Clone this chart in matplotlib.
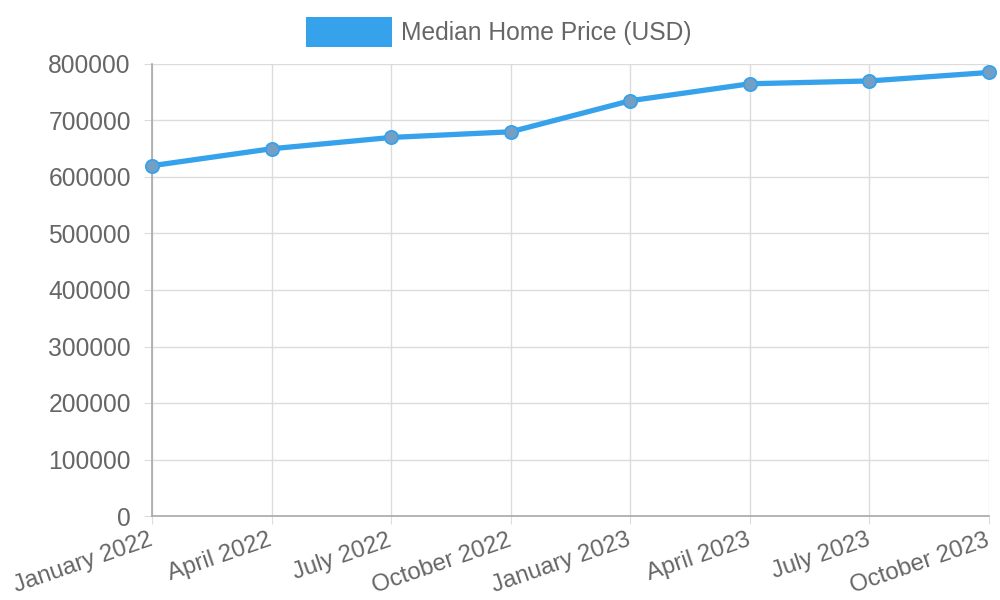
import matplotlib
matplotlib.use("Agg")
import matplotlib.pyplot as plt
import matplotlib.transforms as mtransforms
from matplotlib.patches import Rectangle

months = ["January 2022", "April 2022", "July 2022", "October 2022",
          "January 2023", "April 2023", "July 2023", "October 2023"]
prices = [620000, 650000, 670000, 680000, 735000, 765000, 770000, 785000]
yticks = [0, 100000, 200000, 300000, 400000, 500000, 600000, 700000, 800000]
series_label = "Median Home Price (USD)"

W, H = 1000, 600
plt.rcParams['font.family'] = ['Liberation Sans', 'DejaVu Sans']
fig = plt.figure(figsize=(W / 100, H / 100), dpi=100)
ax = fig.add_axes([152 / W, 1 - 516 / H, (989 - 152) / W, (516 - 64) / H])

blue = "#36A2EB"
text_c = "#666666"
grid_c = "#dcdcdc"
axis_c = "#a8a8a8"
fs = 17.7

x = list(range(len(months)))
ax.plot(x, prices, color=blue, lw=3.8, zorder=3, solid_capstyle='round',
        marker='o', markersize=9.5, markerfacecolor="#739fc4",
        markeredgecolor=blue, markeredgewidth=1.3, clip_on=False)

ax.set_xlim(0, len(months) - 1)
ax.set_ylim(0, 800000)
ax.set_yticks(yticks)
ax.set_yticklabels([str(v) for v in yticks])
ax.set_xticks(x)
ax.set_xticklabels(months)

ax.grid(True, color=grid_c, lw=1.0, zorder=0)
for s in ['top', 'right']:
    ax.spines[s].set_visible(False)
for s in ['left', 'bottom']:
    ax.spines[s].set_color(axis_c)
    ax.spines[s].set_linewidth(1.2)
    ax.spines[s].set_zorder(2)

ax.tick_params(axis='both', colors=grid_c, labelcolor=text_c, labelsize=fs,
               length=8 * 0.72, width=0.8)
ax.tick_params(axis='x', labelsize=17.3)
ax.tick_params(axis='y', pad=9.5)
ax.tick_params(axis='x', pad=2)
offset = mtransforms.ScaledTranslation(-4 / 100, -2.5 / 100, fig.dpi_scale_trans)
for lab in ax.get_xticklabels():
    lab.set_rotation(19)
    lab.set_ha('right')
    lab.set_va('top')
    lab.set_rotation_mode('anchor')
    lab.set_transform(lab.get_transform() + offset)

# legend
fig.patches.append(Rectangle((306 / W, 1 - 47 / H), 86 / W, 30 / H,
                             transform=fig.transFigure, facecolor=blue,
                             edgecolor='none'))
fig.text(401 / W, 1 - 33 / H, series_label, color=text_c, fontsize=fs,
         ha='left', va='center')

fig.savefig("out.png", dpi=100, facecolor='white')
